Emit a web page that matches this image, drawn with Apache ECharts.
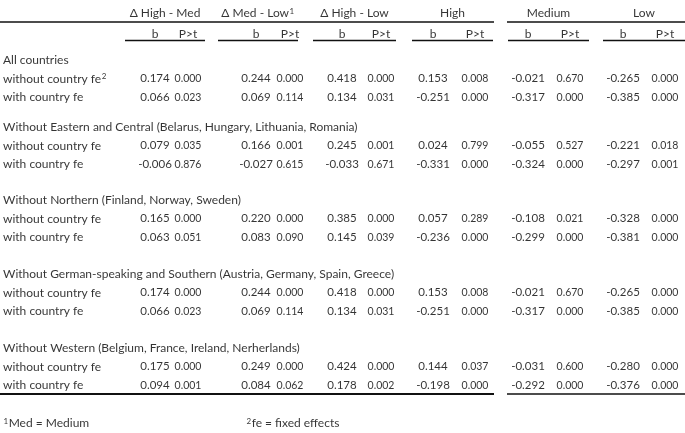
<!DOCTYPE html>
<html><head><meta charset="utf-8">
<script src="https://cdn.jsdelivr.net/npm/echarts@6/dist/echarts.min.js"></script>
<style>html,body{margin:0;padding:0;background:#fff}#c{width:685px;height:433px}</style>
</head><body><div id="c"></div>
<script>
// ---- data ----
const groupHeaders = ['Δ High - Med', 'Δ Med - Low{sup|1}', 'Δ High - Low', 'High', 'Medium', 'Low'];
const subHeaders = ['b', 'P>t'];
const sectionTitles = [
  'All countries',
  'Without Eastern and Central (Belarus, Hungary, Lithuania, Romania)',
  'Without Northern (Finland, Norway, Sweden)',
  'Without German-speaking and Southern (Austria, Germany, Spain, Greece)',
  'Without Western (Belgium, France, Ireland, Nerherlands)'
];
const rowLabelsFirst = ['without country fe{sup|2}', 'with country fe'];
const rowLabels = ['without country fe', 'with country fe'];
// each: b, P>t pairs for the six groups
const allWithout   = [0.174, 0.000, 0.244, 0.000, 0.418, 0.000, 0.153, 0.008, -0.021, 0.670, -0.265, 0.000];
const allWith      = [0.066, 0.023, 0.069, 0.114, 0.134, 0.031, -0.251, 0.000, -0.317, 0.000, -0.385, 0.000];
const eastWithout  = [0.079, 0.035, 0.166, 0.001, 0.245, 0.001, 0.024, 0.799, -0.055, 0.527, -0.221, 0.018];
const eastWith     = [-0.006, 0.876, -0.027, 0.615, -0.033, 0.671, -0.331, 0.000, -0.324, 0.000, -0.297, 0.001];
const northWithout = [0.165, 0.000, 0.220, 0.000, 0.385, 0.000, 0.057, 0.289, -0.108, 0.021, -0.328, 0.000];
const northWith    = [0.063, 0.051, 0.083, 0.090, 0.145, 0.039, -0.236, 0.000, -0.299, 0.000, -0.381, 0.000];
const southWithout = [0.174, 0.000, 0.244, 0.000, 0.418, 0.000, 0.153, 0.008, -0.021, 0.670, -0.265, 0.000];
const southWith    = [0.066, 0.023, 0.069, 0.114, 0.134, 0.031, -0.251, 0.000, -0.317, 0.000, -0.385, 0.000];
const westWithout  = [0.175, 0.000, 0.249, 0.000, 0.424, 0.000, 0.144, 0.037, -0.031, 0.600, -0.280, 0.000];
const westWith     = [0.094, 0.001, 0.084, 0.062, 0.178, 0.002, -0.198, 0.000, -0.292, 0.000, -0.376, 0.000];
const footnotes = ['{sup|1}Med = Medium', '{sup|2}fe = fixed effects'];

// ---- layout ----
const W = 685, H = 433;
const FONT = 'Lato';
const colX = [155, 188, 256, 290, 342, 381, 433, 475, 528, 570, 623, 665];
const groupSpan = [[125, 205], [218, 298], [313, 396], [412, 493], [508, 589], [603, 685]];
const headerY = 13, subY = 34, topLineY = 21.5, subLineY = 40.5, bottomLineY = 393.5;
const sectionY = [60, 127, 200, 274, 348];
const rowOff = [18.7, 37.3];
const footY = 423, footX = [3, 246];
const labelX = 3;

const sections = [[allWithout, allWith], [eastWithout, eastWith], [northWithout, northWith], [southWithout, southWith], [westWithout, westWith]];

const leftText = [], centerB = [], centerP = [], headerText = [];
groupHeaders.forEach((g, i) => headerText.push({ value: [(groupSpan[i][0] + groupSpan[i][1]) / 2, headerY], name: g }));
groupSpan.forEach((s, i) => {
  subHeaders.forEach((h, j) => headerText.push({ value: [colX[i * 2 + j], subY], name: h }));
});
sections.forEach((rows, si) => {
  leftText.push({ value: [labelX, sectionY[si]], name: sectionTitles[si] });
  rows.forEach((vals, ri) => {
    const y = sectionY[si] + rowOff[ri];
    leftText.push({ value: [labelX, y], name: (si === 0 ? rowLabelsFirst : rowLabels)[ri] });
    vals.forEach((v, k) => {
      const item = { value: [colX[k], y], name: v.toFixed(3) };
      (k % 2 === 0 ? centerB : centerP).push(item);
    });
  });
});
footnotes.forEach((f, i) => leftText.push({ value: [footX[i], footY], name: f }));

const lineSegs = [];
function seg(x1, x2, y, w) { lineSegs.push({ coords: [[x1, y], [x2, y]], lineStyle: { width: w } }); }
seg(0, 494, topLineY, 1.5); seg(507, 685, topLineY, 1.5);
groupSpan.forEach(s => seg(s[0], s[1], subLineY, 1.3));
seg(0, 494, bottomLineY, 1.8); seg(507, 685, bottomLineY, 1.5);

function textSeries(data, align, size) {
  return {
    type: 'scatter', symbolSize: 0, data, silent: true,
    label: { show: true, position: 'inside', align, verticalAlign: 'middle',
      formatter: p => p.name, color: '#000', fontFamily: FONT, fontSize: size,
      rich: { sup: { fontSize: 8, fontFamily: FONT, color: '#000', verticalAlign: 'top', lineHeight: 7, padding: [0, 0.5, 0, 0.5] } } }
  };
}

const chart = echarts.init(document.getElementById('c'), null, { renderer: 'canvas' });
chart.setOption({
  animation: false,
  backgroundColor: '#fff',
  grid: { left: 0, right: 0, top: 0, bottom: 0 },
  xAxis: { type: 'value', min: 0, max: W, show: false },
  yAxis: { type: 'value', min: 0, max: H, inverse: true, show: false },
  series: [
    textSeries(headerText, 'center', 12),
    textSeries(leftText, 'left', 12),
    textSeries(centerB, 'center', 11.5),
    textSeries(centerP, 'center', 10.5),
    { type: 'lines', coordinateSystem: 'cartesian2d', silent: true,
      lineStyle: { color: '#111', width: 1, opacity: 1 }, data: lineSegs }
  ]
});
</script></body></html>
